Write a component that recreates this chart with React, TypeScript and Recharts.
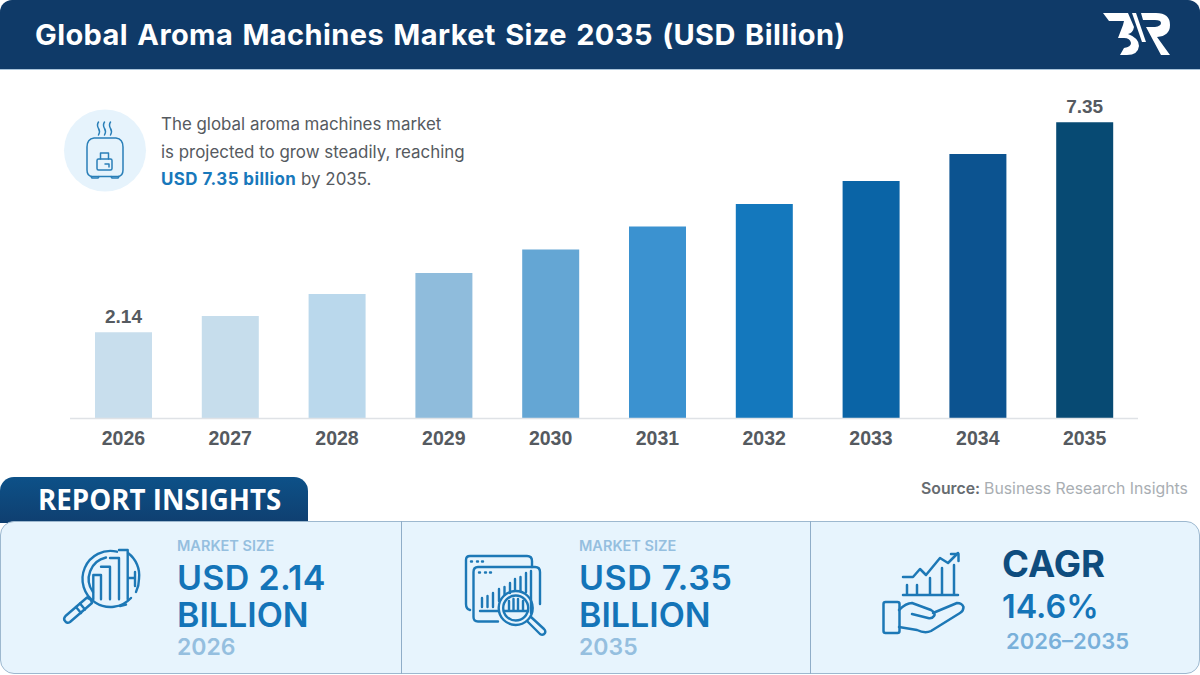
import React from "react";
import { BarChart, Bar, XAxis, YAxis, Cell, LabelList } from "recharts";

// chart data
const years = ["2026", "2027", "2028", "2029", "2030", "2031", "2032", "2033", "2034", "2035"];
const marketSize = [2.14, 2.54, 3.09, 3.61, 4.19, 4.76, 5.32, 5.89, 6.56, 7.35];
const shownLabels = ["2.14", "", "", "", "", "", "", "", "", "7.35"];
const barColors = ["#c8deed", "#c6ddec", "#bad8ec", "#8fbcdc", "#64a6d4", "#3b92d0", "#1478bd", "#0a64a6", "#0c5390", "#074a73"];

const chartData = years.map((year, i) => ({ year, value: marketSize[i], label: shownLabels[i] }));

const FONT = "'Liberation Sans', Arial, sans-serif";
const INTER = "Inter, sans-serif";
const INK = "#1d78b6";

function Txt({ x, y, size, color, weight = 700, font = INTER, children, spacing, wordSpacing }: any) {
  return (
    <div
      style={{
        position: "absolute",
        left: x,
        top: y,
        fontSize: size,
        color,
        fontWeight: weight,
        fontFamily: font,
        lineHeight: 1,
        whiteSpace: "nowrap",
        letterSpacing: spacing,
        wordSpacing,
      }}
    >
      {children}
    </div>
  );
}

// icons are drawn in page coordinates
function Layer({ children }: any) {
  return (
    <svg style={{ position: "absolute", left: 0, top: 0 }} width={1200} height={675} viewBox="0 0 1200 675">
      {children}
    </svg>
  );
}

function Logo() {
  return (
    <Layer>
      <g fill="#fff">
        <path d="M1103 13 H1128 L1134 27 Q1133 33 1128 34 Q1139 38 1139 46 Q1138 55 1127 55 H1120 L1124 48 Q1131 47 1131 43 Q1130 38 1124 38 H1118 L1123 25 L1124 21 H1109 Z" />
        <path d="M1132 13 H1136 L1146 42 H1142 Z" />
        <path d="M1141 13 H1156 Q1170 13 1170 25 Q1170 36 1157 37 L1170 55 H1161 L1146 27 H1155 Q1161 26 1161 23 Q1161 20 1155 20 H1143 Z" />
      </g>
    </Layer>
  );
}

function HumidifierIcon() {
  return (
    <Layer>
      <circle cx={105} cy={150.5} r={41} fill="#e6f3fc" />
      <g fill="none" stroke="#2a7fb8" strokeWidth={1.5} strokeLinecap="round" strokeLinejoin="round">
        <path d="M98.5 122 q-2 3 0 6.5 q2 3 0 6.5 M104.5 122 q-2 3 0 6.5 q2 3 0 6.5 M110.5 122 q-2 3 0 6.5 q2 3 0 6.5" />
        <path d="M94 138 H116 Q123 139 123 147 V170 Q123 176 118 176.5 H92 Q87 176 87 170 V147 Q87 139 94 138 Z" />
        <path d="M91 176.5 L92 178 H98 L99 176.5 M111 176.5 L112 178 H118 L119 176.5" />
        <rect x={97} y={159} width={15} height={11} rx={1.5} />
        <path d="M100.5 159 V153 H108.5 V159 M105 164 H109 V167" />
      </g>
    </Layer>
  );
}

function MagnifierIcon() {
  return (
    <Layer>
      <g fill="none" stroke={INK} strokeWidth={2.4} strokeLinecap="round" strokeLinejoin="round">
        <path d="M117 551.7 A28 28 0 1 0 131 598" />
        <path d="M106 557.5 A22 22 0 0 0 93 592" />
        <path d="M128 553 A28 28 0 0 1 139 579 Q139 586 136 592" />
        <path d="M120 606 L126 604.5" />
        <path d="M93.3 599.3 V575 H101 V599.3 M101 566.7 H110 V599.3 M110 558 H119 V599.3 M119 550 H127.7 V599.3 M127.7 578 H135 M135 572 V586" />
        <path d="M91 600 L87 597.5 L65.5 616 Q63 619 65 621 Q67 624 70 622 L92 603 Z" />
        <path d="M76 607 L81 613 M80 603.5 L85 609.5" />
      </g>
    </Layer>
  );
}

function ScreenIcon() {
  return (
    <Layer>
      <g fill="none" stroke={INK} strokeWidth={2.4} strokeLinecap="round" strokeLinejoin="round">
        <path d="M470 610 Q466 609 466 604 V560 Q466 556 470 556 H527 Q532 556 532 561 V567" />
        <path d="M498 621.5 H478 Q473.5 621.5 473.5 617 V572 Q473.5 567 478 567 H535 Q540 567 540 572 V604" />
        <path d="M471 561.5 H472 M477 561.5 H478 M482 561.5 H483 M479 572.5 H480 M485 572.5 H486 M490 572.5 H491" />
        <path d="M482 607 V598 M487.5 607 V596 M493 607 V593 M499 601 V589 M504.5 595 V587 M510 593 V583 M515 590 V579 M520.5 591 V577 M526 592 V573 M531 613 V571" />
        <path d="M480 611 H499" />
        <circle cx={515.7} cy={608} r={17} />
        <circle cx={515.7} cy={608} r={12.5} />
        <path d="M504 611 H528 M509 601 V611 M513.5 599 V611 M518 599 V611 M523 601 V611" />
        <path d="M527 621 L540 634 Q543 636 545 633 Q546 631 544 629 L531 617" />
      </g>
    </Layer>
  );
}

function HandIcon() {
  return (
    <Layer>
      <g fill="none" stroke={INK} strokeWidth={2.5} strokeLinecap="round" strokeLinejoin="round">
        <path d="M903 577 H913 L920 569 L926 575 L940 558 L948 563 L958 553" />
        <path d="M951 554 H958.5 V561" />
        <path d="M903 595 H958" />
        <path d="M907 594 V585 M917 594 V585 M930 594 V578 M942 594 V568 M954 594 V565" />
        <rect x={883.5} y={602} width={16} height={31} rx={2} />
        <path d="M899 610 Q906 603 912 603 L931 610 Q936 613 934 616 Q932 619 928 618 L912 614" />
        <path d="M933 613 L957 603 Q962 603 963.5 607 Q963.5 611 960 613 L931 631 Q925 634 917 630 L899 627" />
      </g>
    </Layer>
  );
}

export default function App() {
  return (
    <div
      style={{
        position: "absolute",
        left: 0,
        top: 0,
        width: 1200,
        height: 675,
        background: "#fff",
        overflow: "hidden",
      }}
    >
      {/* header band */}
      <div
        style={{
          position: "absolute",
          left: 0,
          top: 0,
          width: 1200,
          height: 69,
          background: "#0f3a68",
          borderBottom: "1px solid #a9c3da",
          borderRadius: "12px 12px 0 0",
        }}
      />
      <Txt x={35} y={20} size={29} color="#fff" spacing={0.4} wordSpacing={2}>
        Global Aroma Machines Market Size 2035 (USD Billion)
      </Txt>
      <Logo />

      <div style={{ position: "absolute", left: 0, top: 0 }}>
        <BarChart
          width={1200}
          height={470}
          data={chartData}
          margin={{ top: 96, right: 62, bottom: 0, left: 70 }}
          barCategoryGap={0}
        >
          <YAxis hide domain={[0, 8]} />
          <XAxis
            dataKey="year"
            height={51.5}
            tickLine={false}
            axisLine={{ stroke: "#dfe2e6", strokeWidth: 1.5 }}
            tick={{ fill: "#555a60", fontSize: 19.5, fontWeight: 700, fontFamily: FONT }}
            tickMargin={7}
            interval={0}
          />
          <Bar dataKey="value" barSize={57} isAnimationActive={false}>
            {chartData.map((d, i) => (
              <Cell key={d.year} fill={barColors[i]} />
            ))}
            <LabelList
              dataKey="label"
              position="top"
              offset={9}
              fill="#555a60"
              fontSize={19}
              fontWeight={700}
              fontFamily={FONT}
            />
          </Bar>
        </BarChart>
      </div>

      {/* note beside the icon */}
      <HumidifierIcon />
      <Txt x={161} y={116} size={16.9} color="#555a60" weight={400}>
        The global aroma machines market
      </Txt>
      <Txt x={161} y={144} size={16.9} color="#555a60" weight={400}>
        is projected to grow steadily, reaching
      </Txt>
      <Txt x={161} y={171} size={16.9} color="#555a60" weight={400}>
        <span style={{ color: "#1878bb", fontWeight: 700, letterSpacing: 0.45 }}>USD 7.35 billion</span> by 2035.
      </Txt>

      <Txt x={921} y={481} size={15.8} color="#666b70" weight={600}>
        Source: <span style={{ color: "#a9aeb3", fontWeight: 400 }}>Business Research Insights</span>
      </Txt>

      {/* insights panel */}
      <div
        style={{
          position: "absolute",
          left: 0,
          top: 477,
          width: 308,
          height: 46,
          background: "linear-gradient(180deg, #0d5188 0%, #0f3f70 100%)",
          borderRadius: "14px 14px 0 0",
        }}
      />
      <Txt x={38} y={486} size={27.7} color="#fff" font="'Open Sans', sans-serif">
        REPORT INSIGHTS
      </Txt>
      <div
        style={{
          position: "absolute",
          left: 0,
          top: 521,
          width: 1200,
          height: 153,
          boxSizing: "border-box",
          background: "#e7f4fd",
          border: "1px solid #9db8cf",
          borderRadius: 14,
        }}
      />
      <div style={{ position: "absolute", left: 401, top: 521, width: 1, height: 153, background: "#8fadc8" }} />
      <div style={{ position: "absolute", left: 810, top: 521, width: 1, height: 153, background: "#8fadc8" }} />

      <MagnifierIcon />
      <Txt x={177} y={539} size={14.5} color="#95bfdf" weight={600}>MARKET SIZE</Txt>
      <Txt x={177} y={561} size={34} color="#1474b8" weight={600} spacing={0.3}>USD 2.14</Txt>
      <Txt x={177} y={598} size={34} color="#1474b8" weight={600}>BILLION</Txt>
      <Txt x={177} y={636} size={23} color="#95bfdf" weight={600}>2026</Txt>

      <ScreenIcon />
      <Txt x={579} y={539} size={14.5} color="#95bfdf" weight={600}>MARKET SIZE</Txt>
      <Txt x={579} y={561} size={34} color="#1474b8" weight={600} spacing={0.6}>USD 7.35</Txt>
      <Txt x={579} y={598} size={34} color="#1474b8" weight={600}>BILLION</Txt>
      <Txt x={579} y={636} size={23} color="#95bfdf" weight={600}>2035</Txt>

      <HandIcon />
      <Txt x={1002} y={546} size={36.5} color="#0e4c7e">CAGR</Txt>
      <Txt x={1002} y={591} size={32.3} color="#1474b8" weight={600}>14.6%</Txt>
      <Txt x={1006} y={630} size={22} color="#79b0da" weight={600}>2026–2035</Txt>
    </div>
  );
}
